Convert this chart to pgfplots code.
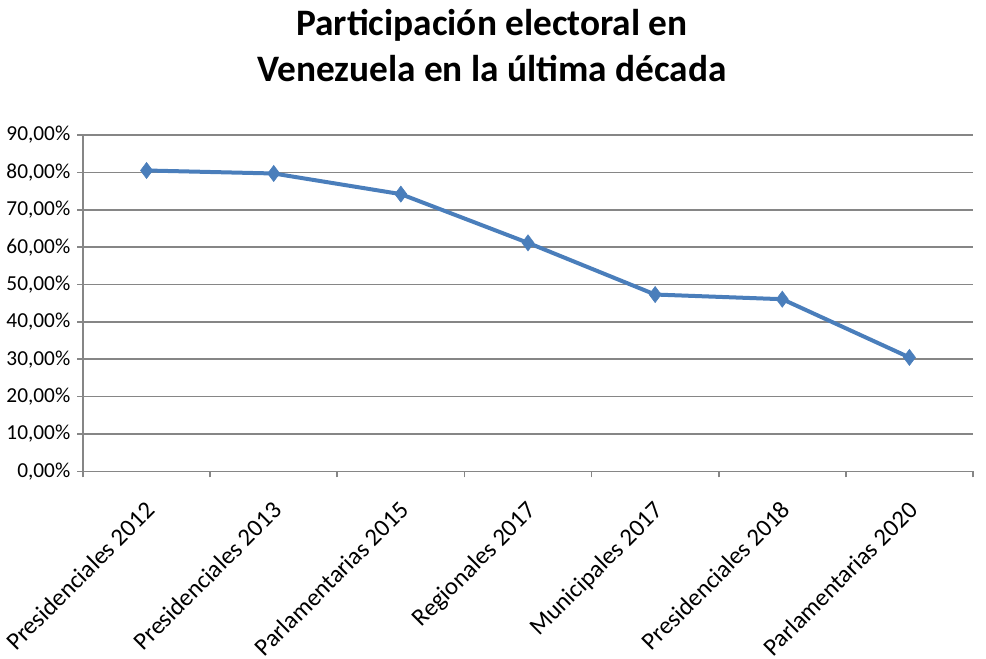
\documentclass[border=0pt]{standalone}
\usepackage{pgfplots}
\pgfplotsset{compat=1.18}
\usepackage{fontspec}
\setmainfont{Carlito}
\definecolor{serie}{HTML}{4A7EBB}
\definecolor{gridc}{HTML}{868686}
\begin{document}
\begin{tikzpicture}
\useasboundingbox (0,0) rectangle (739.5pt,493.5pt);
\node[anchor=base,font=\fontsize{28}{32}\selectfont\bfseries] at (369pt,466.5pt) {Participación electoral en};
\node[anchor=base,font=\fontsize{28}{32}\selectfont\bfseries] at (369pt,432pt) {Venezuela en la última década};
\begin{axis}[
  at={(62.25pt,139.9pt)}, anchor=south west,
  scale only axis, width=667.5pt, height=252.4pt,
  xmin=-0.5, xmax=6.5, ymin=0, ymax=90,
  axis lines=left, axis line style={-, gridc, line width=1.2pt},
  ytick={0,10,...,90},
  yticklabels={{0,00\%},{10,00\%},{20,00\%},{30,00\%},{40,00\%},{50,00\%},{60,00\%},{70,00\%},{80,00\%},{90,00\%}},
  xtick={0,...,6},
  xticklabels={Presidenciales 2012,Presidenciales 2013,Parlamentarias 2015,Regionales 2017,Municipales 2017,Presidenciales 2018,Parlamentarias 2020},
  minor xtick={-0.5,0.5,...,6.5},
  major x tick style={draw=none},
  tick style={gridc, line width=1.2pt},
  ytick style={gridc, line width=1.2pt},
  tick align=outside,
  major tick length=4.5pt, minor tick length=4.5pt,
  ymajorgrids, grid style={gridc, line width=1.2pt},
  yticklabel style={font=\fontsize{16}{18}\selectfont, xshift=-1.5pt},
  xticklabel style={font=\fontsize{18.5}{21}\selectfont, xshift=-2pt, yshift=-16.5pt, rotate=45, anchor=north east, inner sep=0pt},
  clip=false,
]
\addplot[serie, line width=3pt, mark=diamond*, mark size=6pt, mark options={fill=serie, draw=serie, line width=0.5pt}]
  coordinates {(0,80.49) (1,79.69) (2,74.17) (3,61.14) (4,47.32) (5,46.07) (6,30.5)};
\end{axis}
\end{tikzpicture}
\end{document}
